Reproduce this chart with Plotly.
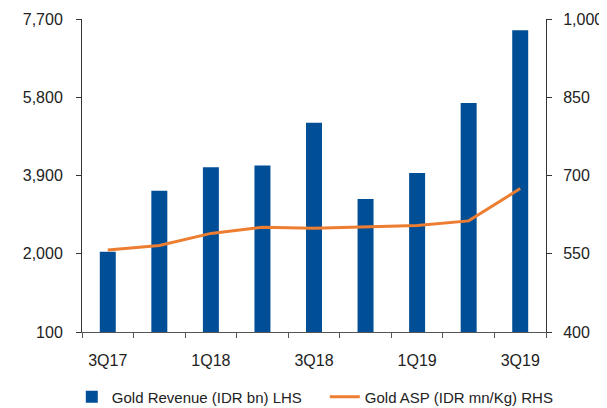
import plotly.graph_objects as go

quarters = ["3Q17", "4Q17", "1Q18", "2Q18", "3Q18", "4Q18", "1Q19", "2Q19", "3Q19"]
revenue = [2050, 3530, 4100, 4140, 5180, 3330, 3960, 5660, 7425]
asp = [557, 566, 589, 601, 599, 601, 604, 613, 675]
left_ticks = [100, 2000, 3900, 5800, 7700]
right_ticks = [400, 550, 700, 850, 1000]
x_labels = [q if i % 2 == 0 else "" for i, q in enumerate(quarters)]

FONT = "Liberation Sans, Arial, sans-serif"

fig = go.Figure()
fig.add_trace(go.Bar(
    x=quarters, y=revenue, name="Gold Revenue (IDR bn) LHS",
    marker=dict(color="#004F96", line=dict(width=0)), yaxis="y",
))
fig.add_trace(go.Scatter(
    x=quarters, y=asp, name="Gold ASP (IDR mn/Kg) RHS", mode="lines",
    line=dict(color="#ED7D31", width=3), yaxis="y2",
))

# page body has an 8px margin, so the figure is 8px smaller and shifted
fig.update_layout(
    width=599, height=400,
    margin=dict(l=74, r=61, t=11, b=76, autoexpand=False),
    paper_bgcolor="white", plot_bgcolor="white",
    font=dict(family=FONT, size=16, color="#222222"),
    bargap=0.69,
    showlegend=True,
    legend=dict(orientation="h", x=-0.022, xanchor="left", y=-0.208, yanchor="middle",
                font=dict(size=15), itemwidth=30, tracegroupgap=0,
                entrywidth=208, entrywidthmode="pixels",
                bgcolor="rgba(0,0,0,0)"),
    xaxis=dict(
        type="category", tickmode="array", tickvals=quarters, ticktext=x_labels,
        tickson="boundaries", ticks="outside", ticklen=5, tickcolor="#555555",
        tickangle=0, automargin=False, ticklabelstandoff=14,
        showline=True, linecolor="#555555", linewidth=1, showgrid=False,
        range=[-0.5, 8.5],
    ),
    yaxis=dict(
        range=[100, 7700], tickvals=left_ticks, tickformat=",d",
        ticks="outside", ticklen=5, tickcolor="#333333", automargin=False,
        showline=True, linecolor="#333333", linewidth=1, showgrid=False, zeroline=False,
        ticklabelstandoff=10,
    ),
    yaxis2=dict(
        range=[400, 1000], tickvals=right_ticks, tickformat=",d",
        overlaying="y", side="right", anchor="x", automargin=False,
        ticks="outside", ticklen=5, tickcolor="#333333",
        showline=True, linecolor="#333333", linewidth=1, showgrid=False, zeroline=False,
        ticklabelstandoff=8,
    ),
)

fig.write_html("out.html")
